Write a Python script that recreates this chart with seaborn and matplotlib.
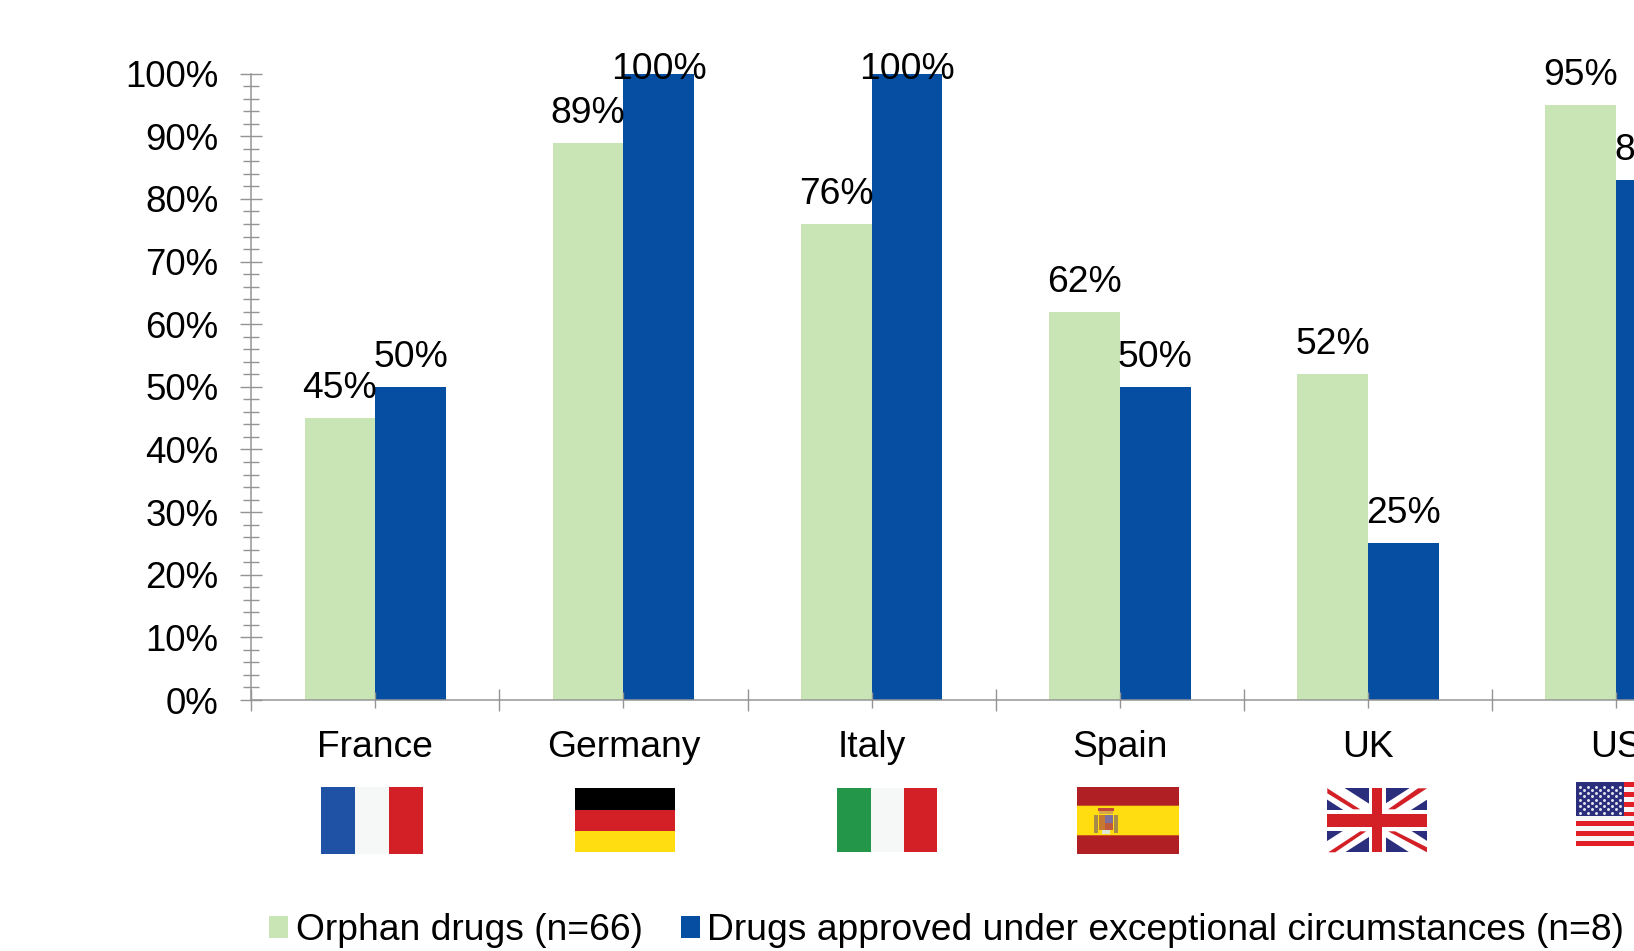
import matplotlib
matplotlib.use("Agg")
import matplotlib.pyplot as plt
from matplotlib.patches import Polygon, Rectangle
from matplotlib.ticker import FixedLocator
import pandas as pd
import seaborn as sns

countries = ["France", "Germany", "Italy", "Spain", "UK", "US"]
orphan_values = [45, 89, 76, 62, 52, 95]
exceptional_values = [50, 100, 100, 50, 25, 83]
series_names = ["Orphan drugs (n=66)", "Drugs approved under exceptional circumstances (n=8)"]
y_ticks = [0, 10, 20, 30, 40, 50, 60, 70, 80, 90, 100]
y_tick_labels = [f"{v}%" for v in y_ticks]

GREEN = "#c9e5b5"
BLUE = "#054ea2"
AXIS_GREY = "#949494"
FLAG_RED = "#d32027"
FLAG_NAVY = "#2a2e7c"
FLAG_WHITE = "#f6f8f7"
FLAG_YELLOW = "#ffdd10"

W, H, DPI = 1634, 951, 100
PT = 72 / DPI
FONT = 26.8

sns.set_style("white")
plt.rcParams["font.family"] = ["Liberation Sans", "DejaVu Sans"]
plt.rcParams["font.size"] = FONT
plt.rcParams["text.color"] = "black"
plt.rcParams["xtick.labelcolor"] = "black"
plt.rcParams["ytick.labelcolor"] = "black"

fig = plt.figure(figsize=(W / DPI, H / DPI), dpi=DPI, facecolor="white")

# The plot area runs past the right edge of the canvas, so the US group is cut off.
ax_left, ax_right, ax_top, ax_bottom = 251.3, 1740.0, 73.7, 700.0
ax = fig.add_axes([ax_left / W, 1 - ax_bottom / H, (ax_right - ax_left) / W, (ax_bottom - ax_top) / H])

table = pd.DataFrame({
    "country": countries * 2,
    "share": orphan_values + exceptional_values,
    "series": [series_names[0]] * len(countries) + [series_names[1]] * len(countries),
})
sns.barplot(
    data=table, x="country", y="share", hue="series", order=countries, hue_order=series_names,
    palette=[GREEN, BLUE], width=0.571, gap=0, saturation=1, errorbar=None, ax=ax, legend=True,
    linewidth=0, zorder=2,
)

ax.set_xlim(-0.5, len(countries) - 0.5)
ax.set_ylim(0, 100)
ax.set_xlabel("")
ax.set_ylabel("")
ax.set_yticks(y_ticks, y_tick_labels)
ax.yaxis.set_minor_locator(FixedLocator([v for v in range(0, 101, 2) if v % 10]))
ax.xaxis.set_minor_locator(FixedLocator([i - 0.5 for i in range(len(countries) + 1)]))
ax.set_axisbelow(False)

for side in ("top", "right"):
    ax.spines[side].set_visible(False)
for side in ("left", "bottom"):
    ax.spines[side].set_color(AXIS_GREY)
    ax.spines[side].set_linewidth(1.5 * PT)

tick_w = 1.4 * PT
ax.tick_params(axis="y", which="major", direction="inout", length=22.4 * PT, width=tick_w,
               color=AXIS_GREY, labelsize=26.4, pad=15.5, left=True)
ax.tick_params(axis="y", which="minor", direction="inout", length=16.7 * PT, width=tick_w,
               color=AXIS_GREY, left=True)
ax.tick_params(axis="x", which="major", direction="inout", length=16.6 * PT, width=tick_w,
               color=AXIS_GREY, labelsize=FONT, pad=15.8, bottom=True)
ax.tick_params(axis="x", which="minor", direction="inout", length=22.0 * PT, width=tick_w,
               color=AXIS_GREY, bottom=True)

# Value labels above the bars; full-height bars keep theirs inside the frame.
for container in ax.containers:
    for bar in container:
        value = bar.get_height()
        offset = -5.6 if value >= 100 else 20.0
        ax.annotate(f"{value:.0f}%", (bar.get_x() + bar.get_width() / 2, value),
                    xytext=(0, offset * PT), textcoords="offset points",
                    ha="center", va="baseline", fontsize=FONT, color="black",
                    annotation_clip=False, zorder=5)

handles, labels = ax.get_legend_handles_labels()
ax.legend(handles, labels, loc="lower left", ncol=2, frameon=False,
          bbox_to_anchor=(269 / W, 1 - 948 / H), bbox_transform=fig.transFigure,
          fontsize=FONT, labelcolor="black", borderpad=0, borderaxespad=0,
          handlelength=0.51, handleheight=0.51, handletextpad=0.21, columnspacing=1.02)

# Flags live on a transparent overlay measured in canvas pixels.
flags = fig.add_axes([0, 0, 1, 1], facecolor="none")
flags.set_xlim(0, W)
flags.set_ylim(H, 0)
flags.axis("off")


def rect(x0, y0, x1, y1, color, z=1):
    flags.add_patch(Rectangle((x0, y0), x1 - x0, y1 - y0, facecolor=color, edgecolor="none", zorder=z))


def vertical_tricolor(x0, x1, x2, x3, y0, y1, colors):
    for a, b, c in zip((x0, x1, x2), (x1, x2, x3), colors):
        rect(a, y0, b, y1, c)


def draw_union_jack(x0, y0, x1, y1):
    rect(x0, y0, x1, y1, FLAG_NAVY)
    w, h = x1 - x0, y1 - y0
    clip = Rectangle((x0, y0), w, h, transform=flags.transData)
    for sx, sy, ex, ey in ((x0, y0, x1, y1), (x0, y1, x1, y0)):
        line, = flags.plot([sx, ex], [sy, ey], color="white", lw=h * 0.3 * PT,
                           solid_capstyle="butt", zorder=2)
        line.set_clip_path(clip)
    cx, cy = (x0 + x1) / 2, (y0 + y1) / 2

    def rel(points):
        return [(x0 + px * w / 100, y0 + py * h / 64) for px, py in points]

    # Red saltire, counterchanged around the centre.
    arms = [
        [(0, 0), (0, 5), (26, 21), (33, 21)],
        [(100, 0), (91, 0), (61, 21), (68, 21)],
        [(1, 64), (8, 64), (39, 43), (33, 43)],
        [(100, 64), (100, 59), (68, 43), (61, 43)],
    ]
    for arm in arms:
        flags.add_patch(Polygon(rel(arm), closed=True, facecolor=FLAG_RED, edgecolor="none", zorder=3))
    rect(cx - 8.5, y0, cx + 8.5, y1, "white", 4)
    rect(x0, cy - 10.3, x1, cy + 10.3, "white", 4)
    rect(cx - 5, y0, cx + 5, y1, FLAG_RED, 5)
    rect(x0, cy - 6.4, x1, cy + 6.4, FLAG_RED, 5)


def draw_spain(x0, y0, x1, y1):
    rect(x0, y0, x1, y1, "#b01f24")
    rect(x0, 805.3, x1, 835.7, FLAG_YELLOW)
    rect(x0, 804.6, x1, 805.6, "#c9561f", 2)
    rect(x0, 835.4, x1, 836.4, "#c9561f", 2)
    # Coat of arms, reduced to its main colour blocks.
    rect(1098, 808, 1114, 811, "#c0473a", 2)
    rect(1099, 811, 1113, 814, "#d8a74a", 2)
    rect(1094, 815, 1098, 833, "#a68a4c", 2)
    rect(1114, 815, 1118, 833, "#a68a4c", 2)
    rect(1099, 815, 1105, 830, "#c47a30", 2)
    rect(1105, 815, 1113, 823, "#7f6f9f", 2)
    rect(1105, 823, 1113, 830, "#c05a3a", 2)
    rect(1102, 830, 1110, 834, "#dfe5d2", 2)


def draw_usa(x0, y0, x1, y1):
    stripe = (y1 - y0) / 13
    for i in range(13):
        rect(x0, y0 + i * stripe, x1, y0 + (i + 1) * stripe, "#e21f26" if i % 2 == 0 else FLAG_WHITE)
    rect(x0, y0, 1624, y0 + 7 * stripe, FLAG_NAVY, 2)
    sx, sy = [], []
    for row in range(9):
        cols = 6 if row % 2 == 0 else 5
        for col in range(cols):
            sx.append(x0 + 4 + col * 8 + (0 if row % 2 == 0 else 4))
            sy.append(y0 + 4.7 + row * 3.25)
    flags.scatter(sx, sy, s=4.5, c="#e4e6f0", linewidths=0, zorder=3)


vertical_tricolor(321, 355, 389, 423, 787, 853.7, ["#1f52a4", FLAG_WHITE, FLAG_RED])
rect(575, 788, 675, 810, "black")
rect(575, 810, 675, 831, FLAG_RED)
rect(575, 831, 675, 852, FLAG_YELLOW)
vertical_tricolor(837.3, 871, 904, 937, 788.3, 852, ["#24964a", FLAG_WHITE, FLAG_RED])
draw_spain(1076.7, 787, 1179, 854)
draw_union_jack(1327.3, 788.3, 1427, 852.3)
draw_usa(1576, 782, 1676, 846)

fig.savefig("out.png", dpi=DPI, facecolor="white")
